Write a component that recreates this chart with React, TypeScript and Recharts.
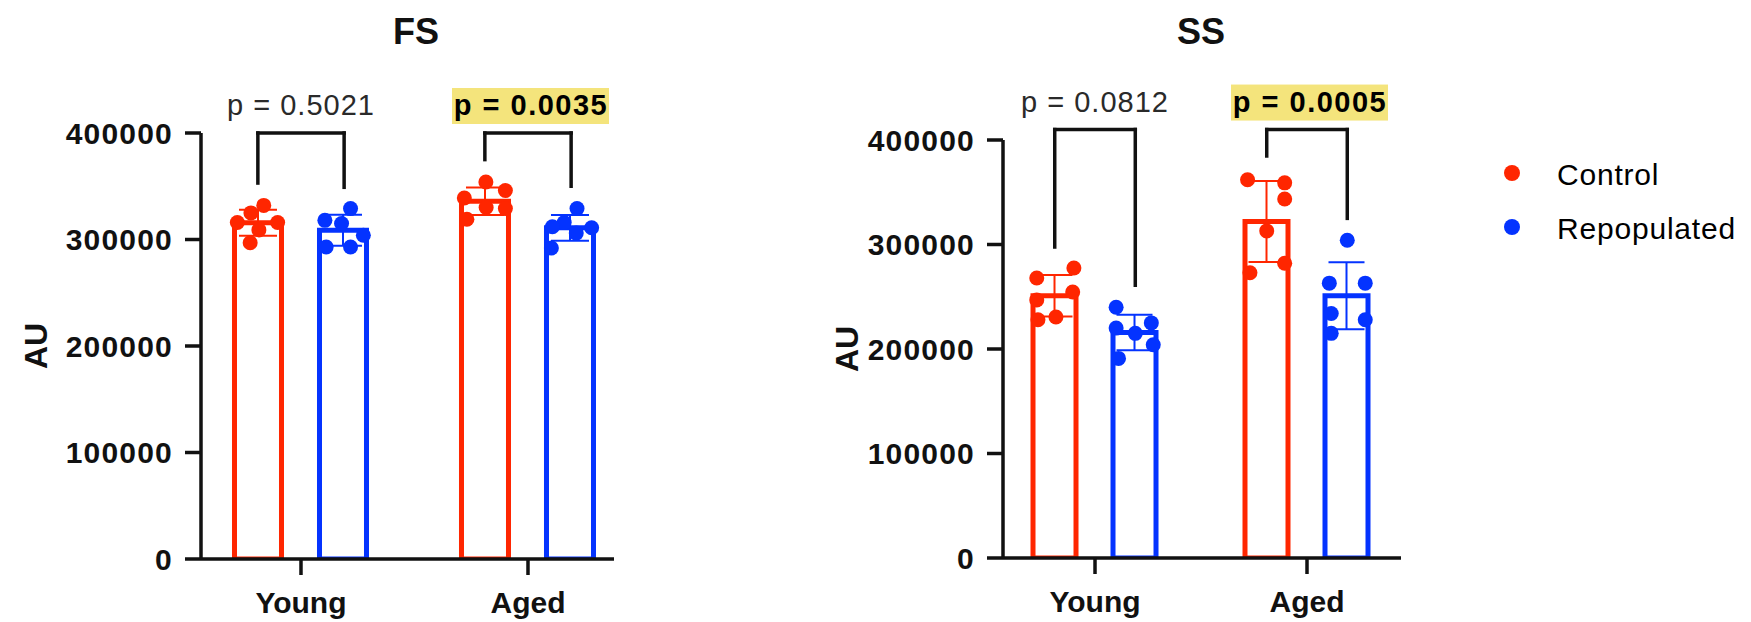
import React from 'react';
import {
  ComposedChart,
  Bar,
  ErrorBar,
  Scatter,
  XAxis,
  YAxis,
  ReferenceLine,
} from 'recharts';

// ---- shared ----
const groups = ['Young', 'Aged'];
const seriesNames = ['Control', 'Repopulated'];
const seriesColors = ['#FF2600', '#0433FF'];
const yTicks = [0, 100000, 200000, 300000, 400000];

// ---- FS panel ----
const fsControlMean = [315800, 336000];
const fsControlSd = [12200, 12900];
const fsRepopMean = [308700, 311000];
const fsRepopSd = [14500, 12100];
const fsControlYoung = [332000, 325000, 316000, 316000, 309000, 297000];
const fsControlAged = [354000, 346000, 339000, 330000, 329000, 319000];
const fsRepopYoung = [329000, 318000, 315000, 304000, 293000, 293000];
const fsRepopAged = [329000, 316000, 312000, 311000, 306000, 292000];
const fsPValues = ['p = 0.5021', 'p = 0.0035'];
const fsSignificant = [false, true];
const fsBracketTop = 400000;
const fsBracketLegs = [
  [353000, 349000],
  [375000, 350000],
];

// ---- SS panel ----
const ssControlMean = [251000, 322000];
const ssControlSd = [19800, 38800];
const ssRepopMean = [215800, 251000];
const ssRepopSd = [17000, 32000];
const ssControlYoung = [277500, 268000, 254500, 247000, 230600, 228000];
const ssControlAged = [362000, 359000, 343500, 313000, 282000, 273000];
const ssRepopYoung = [240000, 225000, 220000, 215000, 204000, 191000];
const ssRepopAged = [304000, 263000, 263000, 234000, 228000, 215000];
const ssPValues = ['p = 0.0812', 'p = 0.0005'];
const ssSignificant = [false, true];
const ssBracketTop = 410000;
const ssBracketLegs = [
  [297600, 261000],
  [384700, 325000],
];

// horizontal scatter of the replicate dots inside each bar (in half-bar widths)
const controlSpread = [
  [0.8, -0.75, 0.75, -0.75, 0.05, -0.7],
  [-0.8, 0.75, 0.75, 0.0, 0.75, -0.7],
];
const repopSpread = [
  [-0.8, 0.67, -0.8, 0.0, 0.75, -0.7],
  [0.0, -0.75, 0.75, -0.67, 0.75, -0.67],
];
const fsControlSpread = [
  [0.23, -0.27, -0.8, 0.77, 0.04, -0.3],
  [0.04, 0.8, -0.8, 0.05, 0.8, -0.7],
];
const fsRepopSpread = [
  [0.25, -0.75, -0.1, 0.75, -0.7, 0.25],
  [0.23, -0.27, -0.73, 0.8, 0.2, -0.77],
];

const FONT = '"Liberation Sans", Arial, Helvetica, sans-serif';
const SIDE = 0.19; // bar centre offset from group centre (band units)
const HALF_BAR = 0.113; // half bar width (band units)

function YTick(props: any) {
  const { x, y, payload } = props;
  return (
    <text
      x={x}
      y={y}
      dy={10.5}
      textAnchor="end"
      fontFamily={FONT}
      fontSize={30}
      fontWeight={700}
      letterSpacing={1.2}
      fill="#111"
    >
      {payload.value}
    </text>
  );
}

function XTick(props: any) {
  const { x, y, payload } = props;
  return (
    <text
      x={x}
      y={y}
      dy={36}
      textAnchor="middle"
      fontFamily={FONT}
      fontSize={30}
      fontWeight={700}
      fill="#111"
    >
      {groups[payload.value]}
    </text>
  );
}

function AxisTitle(props: any) {
  const vb = props.viewBox || {};
  const x = (vb.x || 0) + props.offsetX;
  const y = (vb.y || 0) + (vb.height || 0) / 2;
  return (
    <text
      x={x}
      y={y}
      transform={`rotate(-90, ${x}, ${y})`}
      textAnchor="middle"
      dominantBaseline="central"
      fontFamily={FONT}
      fontSize={32}
      fontWeight={700}
      fill="#111"
    >
      AU
    </text>
  );
}

function PLabel(props: any) {
  const vb = props.viewBox || {};
  const cx =
    vb.x1 != null ? (vb.x1 + vb.x2) / 2 : (vb.x || 0) + (vb.width || 0) / 2;
  const y = vb.y1 != null ? Math.min(vb.y1, vb.y2) : vb.y || 0;
  if (props.strong) {
    return (
      <g>
        <rect x={cx - 76} y={y - 45} width={157} height={36} fill="#F4E47C" />
        <text
          x={cx + 3}
          y={y - 18}
          textAnchor="middle"
          fontFamily={FONT}
          fontSize={29}
          fontWeight={700}
          letterSpacing={1.5}
          fill="#000"
        >
          {props.text}
        </text>
      </g>
    );
  }
  return (
    <text
      x={cx}
      y={y - 18}
      textAnchor="middle"
      fontFamily={FONT}
      fontSize={29}
      letterSpacing={1}
      fill="#2a2a2a"
    >
      {props.text}
    </text>
  );
}

type PanelProps = {
  title: string;
  titleX: number;
  left: number;
  width: number;
  plotTop: number;
  yAxisWidth: number;
  marginRight: number;
  xAxisHeight: number;
  xDomain: [number, number];
  barSize: number;
  barGap: number;
  capHalf: number;
  axisTitleX: number;
  means: number[][];
  sds: number[][];
  points: number[][][];
  spread: number[][][];
  pValues: string[];
  significant: boolean[];
  bracketTop: number;
  bracketLegs: number[][];
};

function Panel(p: PanelProps) {
  const data = groups.map((g, i) => ({
    pos: i,
    name: g,
    control: p.means[0][i],
    controlSd: p.sds[0][i],
    repop: p.means[1][i],
    repopSd: p.sds[1][i],
  }));
  const dots = [0, 1].map((s) =>
    p.points[s].flatMap((grp, gi) =>
      grp.map((v, k) => ({
        pos: gi + (s === 0 ? -SIDE : SIDE) + p.spread[s][gi][k] * HALF_BAR,
        value: v,
      }))
    )
  );
  const height = 622;
  const lineStyle = { stroke: '#111', strokeWidth: 3.5 };
  return (
    <div style={{ position: 'absolute', left: p.left, top: 0, width: p.width, height }}>
      <ComposedChart
        width={p.width}
        height={height}
        data={data}
        margin={{ top: p.plotTop, right: p.marginRight, bottom: 0, left: 0 }}
        barGap={p.barGap}
      >
        <XAxis
          dataKey="pos"
          type="number"
          domain={p.xDomain}
          allowDataOverflow
          ticks={[0, 1]}
          interval={0}
          height={p.xAxisHeight}
          tickSize={16}
          tickMargin={2}
          axisLine={lineStyle}
          tickLine={lineStyle}
          tick={<XTick />}
        />
        <XAxis
          xAxisId="dots"
          dataKey="pos"
          type="number"
          domain={p.xDomain}
          allowDataOverflow
          hide
        />
        <YAxis
          type="number"
          domain={[0, 400000]}
          allowDataOverflow
          ticks={yTicks}
          interval={0}
          width={p.yAxisWidth}
          tickSize={16}
          tickMargin={12}
          axisLine={lineStyle}
          tickLine={lineStyle}
          tick={<YTick />}
          label={<AxisTitle offsetX={p.axisTitleX} />}
        />
        <Bar
          dataKey="control"
          name={seriesNames[0]}
          barSize={p.barSize}
          fill="#fff"
          stroke={seriesColors[0]}
          strokeWidth={5}
          isAnimationActive={false}
        >
          <ErrorBar
            dataKey="controlSd"
            direction="y"
            width={p.capHalf}
            stroke={seriesColors[0]}
            strokeWidth={2}
          />
        </Bar>
        <Bar
          dataKey="repop"
          name={seriesNames[1]}
          barSize={p.barSize}
          fill="#fff"
          stroke={seriesColors[1]}
          strokeWidth={5}
          isAnimationActive={false}
        >
          <ErrorBar
            dataKey="repopSd"
            direction="y"
            width={p.capHalf}
            stroke={seriesColors[1]}
            strokeWidth={2}
          />
        </Bar>
        {[0, 1].map((s) => (
          <Scatter
            key={`dots-${s}`}
            xAxisId="dots"
            data={dots[s]}
            dataKey="value"
            isAnimationActive={false}
            shape={(sp: any) => (
              <circle cx={sp.cx} cy={sp.cy} r={7.5} fill={seriesColors[s]} />
            )}
          />
        ))}
        {groups.map((g, gi) => (
          <ReferenceLine
            key={`top-${g}`}
            segment={[
              { x: gi - SIDE, y: p.bracketTop },
              { x: gi + SIDE, y: p.bracketTop },
            ]}
            ifOverflow="visible"
            stroke="#111"
            strokeWidth={3.5}
            strokeLinecap="square"
            label={<PLabel text={p.pValues[gi]} strong={p.significant[gi]} />}
          />
        ))}
        {groups.map((g, gi) => (
          <ReferenceLine
            key={`left-${g}`}
            segment={[
              { x: gi - SIDE, y: p.bracketTop },
              { x: gi - SIDE, y: p.bracketLegs[gi][0] },
            ]}
            ifOverflow="visible"
            stroke="#111"
            strokeWidth={3.5}
            strokeLinecap="square"
          />
        ))}
        {groups.map((g, gi) => (
          <ReferenceLine
            key={`right-${g}`}
            segment={[
              { x: gi + SIDE, y: p.bracketTop },
              { x: gi + SIDE, y: p.bracketLegs[gi][1] },
            ]}
            ifOverflow="visible"
            stroke="#111"
            strokeWidth={3.5}
            strokeLinecap="square"
          />
        ))}
      </ComposedChart>
      <svg
        width={p.width}
        height={70}
        style={{ position: 'absolute', left: 0, top: 0, pointerEvents: 'none' }}
      >
        <text
          x={p.titleX}
          y={44}
          textAnchor="middle"
          fontFamily={FONT}
          fontSize={36}
          fontWeight={700}
          fill="#111"
        >
          {p.title}
        </text>
      </svg>
    </div>
  );
}

function LegendBox() {
  return (
    <svg
      width={260}
      height={140}
      style={{ position: 'absolute', left: 1491, top: 130 }}
    >
      {seriesNames.map((n, i) => (
        <g key={n}>
          <circle cx={21} cy={43 + i * 54} r={8} fill={seriesColors[i]} />
          <text
            x={66}
            y={43 + i * 54 + 11.5}
            fontFamily={FONT}
            fontSize={30}
            letterSpacing={0.8}
            fill="#000"
          >
            {n}
          </text>
        </g>
      ))}
    </svg>
  );
}

export default function App() {
  return (
    <div
      style={{
        position: 'absolute',
        left: 0,
        top: 0,
        width: 1751,
        height: 622,
        background: '#fff',
        overflow: 'hidden',
      }}
    >
      <Panel
        title="FS"
        titleX={416}
        left={0}
        width={700}
        plotTop={133}
        yAxisWidth={201}
        marginRight={86}
        xAxisHeight={63}
        xDomain={[-0.4405, 1.3789]}
        barSize={47}
        barGap={38}
        capHalf={19}
        axisTitleX={36}
        means={[fsControlMean, fsRepopMean]}
        sds={[fsControlSd, fsRepopSd]}
        points={[
          [fsControlYoung, fsControlAged],
          [fsRepopYoung, fsRepopAged],
        ]}
        spread={[fsControlSpread, fsRepopSpread]}
        pValues={fsPValues}
        significant={fsSignificant}
        bracketTop={fsBracketTop}
        bracketLegs={fsBracketLegs}
      />
      <Panel
        title="SS"
        titleX={421}
        left={780}
        width={680}
        plotTop={140}
        yAxisWidth={223}
        marginRight={59}
        xAxisHeight={64}
        xDomain={[-0.434, 1.4434]}
        barSize={43}
        barGap={37}
        capHalf={18}
        axisTitleX={67}
        means={[ssControlMean, ssRepopMean]}
        sds={[ssControlSd, ssRepopSd]}
        points={[
          [ssControlYoung, ssControlAged],
          [ssRepopYoung, ssRepopAged],
        ]}
        spread={[controlSpread, repopSpread]}
        pValues={ssPValues}
        significant={ssSignificant}
        bracketTop={ssBracketTop}
        bracketLegs={ssBracketLegs}
      />
      <LegendBox />
    </div>
  );
}
